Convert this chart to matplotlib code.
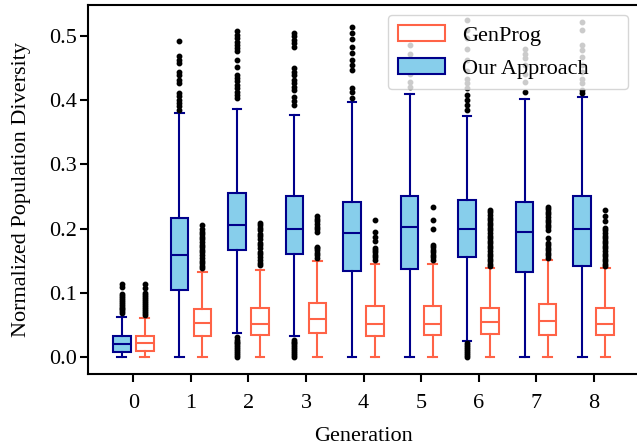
"""Box plots of normalized population diversity per generation:
Our Approach vs GenProg."""
import matplotlib

matplotlib.use("Agg")
import matplotlib.pyplot as plt
from matplotlib.patches import Patch

plt.rcParams["font.family"] = ["Liberation Serif", "DejaVu Serif"]
plt.rcParams["font.size"] = 16

generations = [0, 1, 2, 3, 4, 5, 6, 7, 8]

# Our Approach summary stats
ours_whislo = [0.0, 0.0, 0.038, 0.032, 0.0, 0.0, 0.025, 0.0, 0.0]
ours_q1 = [0.008, 0.105, 0.167, 0.161, 0.134, 0.137, 0.156, 0.132, 0.141]
ours_med = [0.020, 0.159, 0.206, 0.199, 0.193, 0.203, 0.199, 0.194, 0.199]
ours_q3 = [0.032, 0.216, 0.256, 0.251, 0.241, 0.250, 0.245, 0.241, 0.250]
ours_whishi = [0.063, 0.380, 0.386, 0.376, 0.397, 0.409, 0.375, 0.402, 0.404]
ours_fliers = [
    [0.068, 0.071, 0.074, 0.077, 0.080, 0.083, 0.086, 0.089, 0.092, 0.095, 0.098, 0.109, 0.114],
    [0.385, 0.390, 0.395, 0.400, 0.406, 0.411, 0.426, 0.431, 0.439, 0.444, 0.457, 0.463, 0.468, 0.492],
    [0.000, 0.003, 0.006, 0.009, 0.012, 0.015, 0.018, 0.021, 0.024, 0.027, 0.031,
     0.403, 0.408, 0.413, 0.418, 0.424, 0.429, 0.434, 0.439, 0.452, 0.463,
     0.476, 0.481, 0.486, 0.491, 0.496, 0.502, 0.507],
    [0.000, 0.003, 0.006, 0.009, 0.012, 0.015, 0.018, 0.021, 0.024, 0.027,
     0.393, 0.398, 0.405, 0.416, 0.421, 0.426, 0.431, 0.439, 0.444, 0.450,
     0.483, 0.489, 0.494, 0.499, 0.504],
    [0.403, 0.413, 0.419, 0.447, 0.455, 0.463, 0.473, 0.483, 0.495, 0.504, 0.513],
    [0.420, 0.428, 0.441, 0.459, 0.472, 0.485],
    [0.000, 0.003, 0.006, 0.009, 0.012, 0.015, 0.018, 0.021,
     0.385, 0.392, 0.400, 0.408, 0.418, 0.426, 0.433, 0.446, 0.462, 0.480, 0.496, 0.509, 0.524],
    [0.413, 0.428, 0.441, 0.454, 0.465, 0.472, 0.480],
    [0.411, 0.415, 0.426, 0.433, 0.444, 0.454, 0.467, 0.478, 0.485, 0.509, 0.522],
]

# GenProg summary stats
gp_whislo = [0.0, 0.0, 0.0, 0.0, 0.0, 0.0, 0.0, 0.0, 0.0]
gp_q1 = [0.010, 0.032, 0.034, 0.038, 0.032, 0.034, 0.035, 0.034, 0.034]
gp_med = [0.021, 0.053, 0.051, 0.059, 0.051, 0.052, 0.055, 0.056, 0.051]
gp_q3 = [0.032, 0.074, 0.076, 0.084, 0.079, 0.080, 0.077, 0.083, 0.077]
gp_whishi = [0.061, 0.132, 0.135, 0.150, 0.145, 0.145, 0.138, 0.151, 0.138]
gp_fliers = [
    [0.066, 0.069, 0.072, 0.075, 0.078, 0.081, 0.084, 0.087, 0.090, 0.093, 0.096, 0.099, 0.108, 0.113],
    [0.138, 0.142, 0.146, 0.150, 0.154, 0.158, 0.163, 0.167, 0.171, 0.175, 0.179,
     0.183, 0.187, 0.191, 0.195, 0.199, 0.205],
    [0.143, 0.147, 0.151, 0.155, 0.160, 0.164, 0.169, 0.174, 0.178, 0.183, 0.188,
     0.192, 0.197, 0.201, 0.205, 0.209],
    [0.154, 0.158, 0.162, 0.166, 0.169, 0.172, 0.195, 0.199, 0.203, 0.207, 0.211, 0.215, 0.219],
    [0.151, 0.155, 0.159, 0.163, 0.167, 0.170, 0.180, 0.187, 0.195, 0.213],
    [0.151, 0.155, 0.159, 0.163, 0.167, 0.171, 0.174, 0.200, 0.213, 0.234],
    [0.141, 0.145, 0.149, 0.153, 0.157, 0.161, 0.165, 0.169, 0.173, 0.177, 0.181,
     0.185, 0.189, 0.193, 0.197, 0.201, 0.205, 0.209, 0.213, 0.217, 0.221, 0.225, 0.229],
    [0.154, 0.158, 0.162, 0.166, 0.170, 0.174, 0.178, 0.185, 0.198, 0.202, 0.206,
     0.210, 0.214, 0.218, 0.222, 0.226, 0.230, 0.234],
    [0.141, 0.145, 0.149, 0.153, 0.157, 0.161, 0.165, 0.169, 0.173, 0.177, 0.181,
     0.185, 0.189, 0.193, 0.197, 0.201, 0.211, 0.219, 0.229],
]

OURS_FACE = "skyblue"
OURS_EDGE = "darkblue"
GP_FACE = "white"
GP_EDGE = "tomato"
LW = 1.5


def _stats(whislo, q1, med, q3, whishi, fliers):
    return [
        {"whislo": a, "q1": b, "med": c, "q3": d, "whishi": e, "fliers": f}
        for a, b, c, d, e, f in zip(whislo, q1, med, q3, whishi, fliers)
    ]


def _draw(ax, stats, positions, face, edge):
    ax.bxp(
        stats, positions=positions, widths=0.31, patch_artist=True,
        manage_ticks=False,
        boxprops=dict(facecolor=face, edgecolor=edge, linewidth=LW),
        medianprops=dict(color=edge, linewidth=LW),
        whiskerprops=dict(color=edge, linewidth=LW),
        capprops=dict(color=edge, linewidth=LW),
        flierprops=dict(marker="o", markerfacecolor="black", markeredgecolor="black",
                        markersize=3.2, linestyle="none"),
    )


def main() -> None:
    fig = plt.figure(figsize=(6.37, 4.45), dpi=100)
    ax = fig.add_axes([88 / 637, 71 / 445, 551 / 637, 369 / 445])

    ours = _stats(ours_whislo, ours_q1, ours_med, ours_q3, ours_whishi, ours_fliers)
    gp = _stats(gp_whislo, gp_q1, gp_med, gp_q3, gp_whishi, gp_fliers)
    _draw(ax, ours, [g - 0.2 for g in generations], OURS_FACE, OURS_EDGE)
    _draw(ax, gp, [g + 0.2 for g in generations], GP_FACE, GP_EDGE)

    ax.set_xlim(-0.79, 8.79)
    ax.set_ylim(-0.0265, 0.548)
    ax.set_xticks(generations)
    ax.set_xticklabels([str(g) for g in generations])
    ax.set_yticks([0.0, 0.1, 0.2, 0.3, 0.4, 0.5])
    ax.set_xlabel("Generation", labelpad=10)
    ax.set_ylabel("Normalized Population Diversity", labelpad=13)
    for s in ax.spines.values():
        s.set_linewidth(1.5)
    ax.tick_params(width=1.5, length=5.5)
    ax.tick_params(axis="x", pad=9)
    ax.tick_params(axis="y", pad=2.5)

    handles = [
        Patch(facecolor=GP_FACE, edgecolor=GP_EDGE, linewidth=LW, label="GenProg"),
        Patch(facecolor=OURS_FACE, edgecolor=OURS_EDGE, linewidth=LW, label="Our Approach"),
    ]
    ax.legend(handles=handles, loc="upper right", mode="expand",
              bbox_to_anchor=(0.5445, 0.5, 0.4356, 0.4729), borderaxespad=0,
              handlelength=2.1, handleheight=0.75, borderpad=0.45, labelspacing=0.55)

    fig.savefig("out.png", dpi=100)
    plt.close(fig)


if __name__ == "__main__":
    main()
